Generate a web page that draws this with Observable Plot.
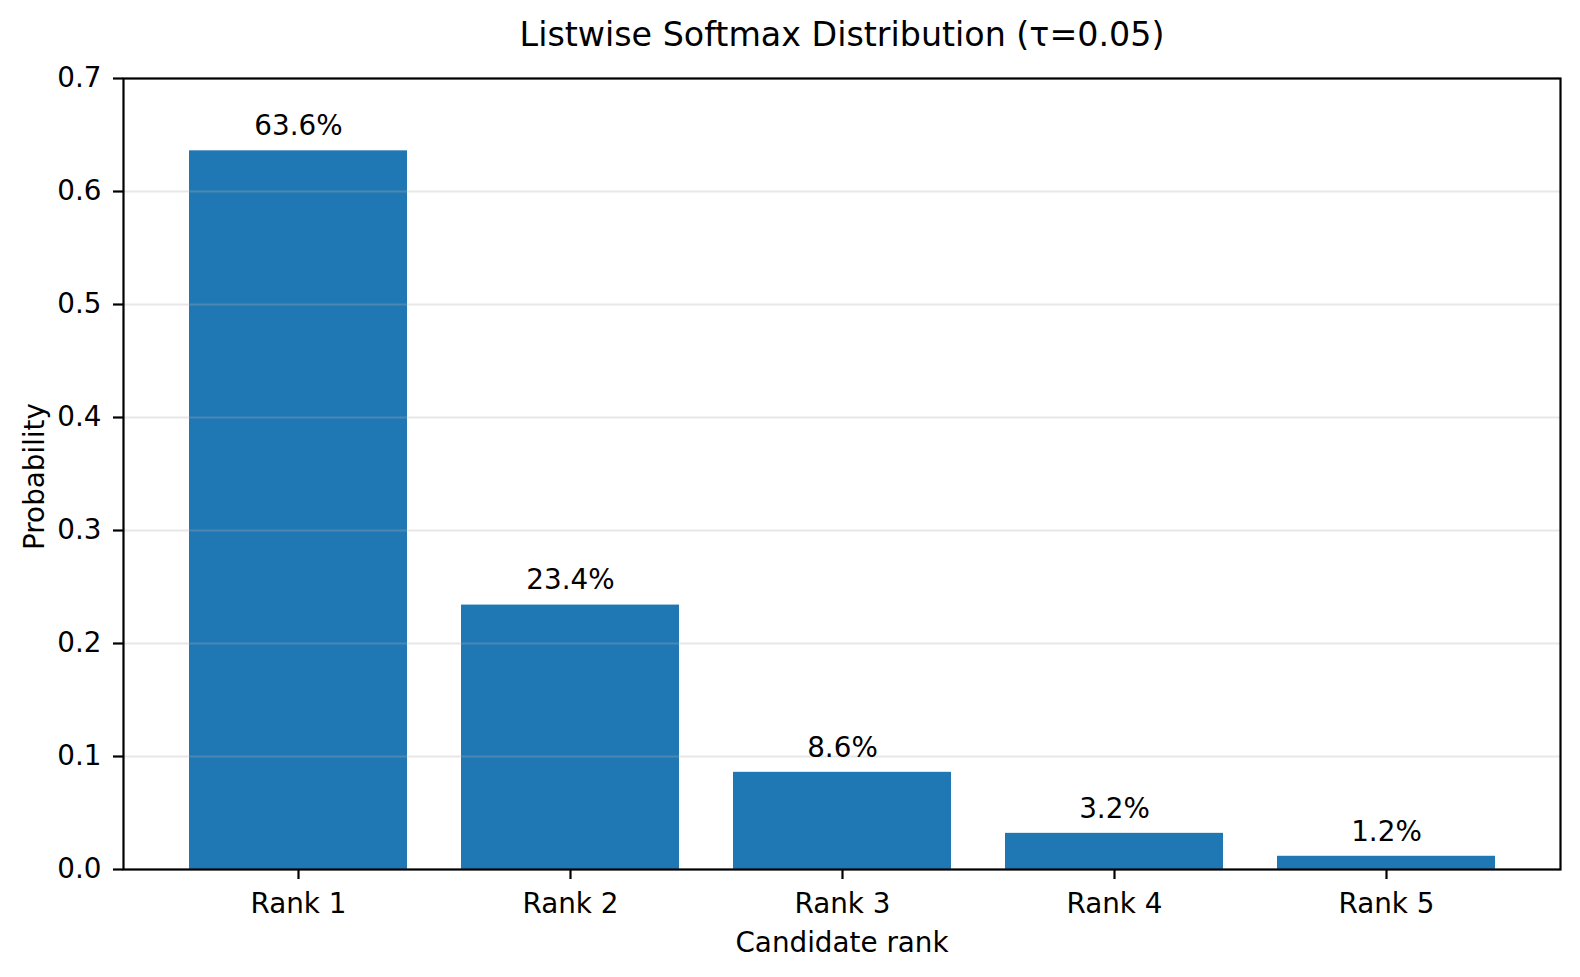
<!DOCTYPE html>
<html>
<head>
<meta charset="utf-8">
<script src="https://cdn.jsdelivr.net/npm/d3@7"></script>
<script src="https://cdn.jsdelivr.net/npm/@observablehq/plot@0.6"></script>
<style>
  html, body { margin: 0; padding: 0; background: white; overflow: hidden; }
  svg { display: block; }
</style>
</head>
<body>
<div id="chart"></div>
<script>
const ranks = ["Rank 1", "Rank 2", "Rank 3", "Rank 4", "Rank 5"];
const probs = [0.636, 0.234, 0.086, 0.032, 0.0117];
const valueLabels = ["63.6%", "23.4%", "8.6%", "3.2%", "1.2%"];
const yTicks = [0, 0.1, 0.2, 0.3, 0.4, 0.5, 0.6, 0.7];
const title = "Listwise Softmax Distribution (τ=0.05)";
const xLabel = "Candidate rank";
const yLabel = "Probability";

const data = ranks.map((r, i) => ({rank: r, p: probs[i], label: valueLabels[i]}));

const chart = Plot.plot({
  width: 1580,
  height: 977,
  marginLeft: 123,
  marginRight: 20,
  marginTop: 78,
  marginBottom: 108,
  style: {fontFamily: "DejaVu Sans", fontSize: "27.8px", background: "white", color: "black", maxWidth: "none"},
  x: {domain: ranks, paddingInner: 0.2, paddingOuter: 0.24, align: 0.5},
  y: {domain: [0, 0.7]},
  marks: [
    Plot.barY(data, {x: "rank", y: "p", fill: "#1f77b4"}),
    Plot.gridY(yTicks, {stroke: "#b0b0b0", strokeOpacity: 0.3, strokeWidth: 2.2}),
    Plot.frame({stroke: "black", strokeWidth: 2.2}),
    Plot.axisY(yTicks, {tickSize: 10, tickPadding: 12, tickFormat: d3.format(".1f"), label: null, strokeWidth: 2.2, fontSize: 27.8}),
    Plot.axisX({tickSize: 10, tickPadding: 14, label: null, strokeWidth: 2.2, fontSize: 27.8}),
    Plot.text(data, {x: "rank", y: "p", text: "label", lineAnchor: "middle", dy: -24.6, fontSize: 27.8}),
    Plot.text([title], {frameAnchor: "top", dy: -43.3, lineAnchor: "middle", textAnchor: "middle", fontSize: 33.3}),
    Plot.text([xLabel], {frameAnchor: "bottom", dy: 74, lineAnchor: "middle", textAnchor: "middle", fontSize: 27.8}),
    Plot.text([yLabel], {frameAnchor: "left", dx: -88.6, dy: 2.5, rotate: -90, lineAnchor: "middle", textAnchor: "middle", fontSize: 27.8})
  ]
});
document.getElementById("chart").appendChild(chart);
</script>
</body>
</html>
